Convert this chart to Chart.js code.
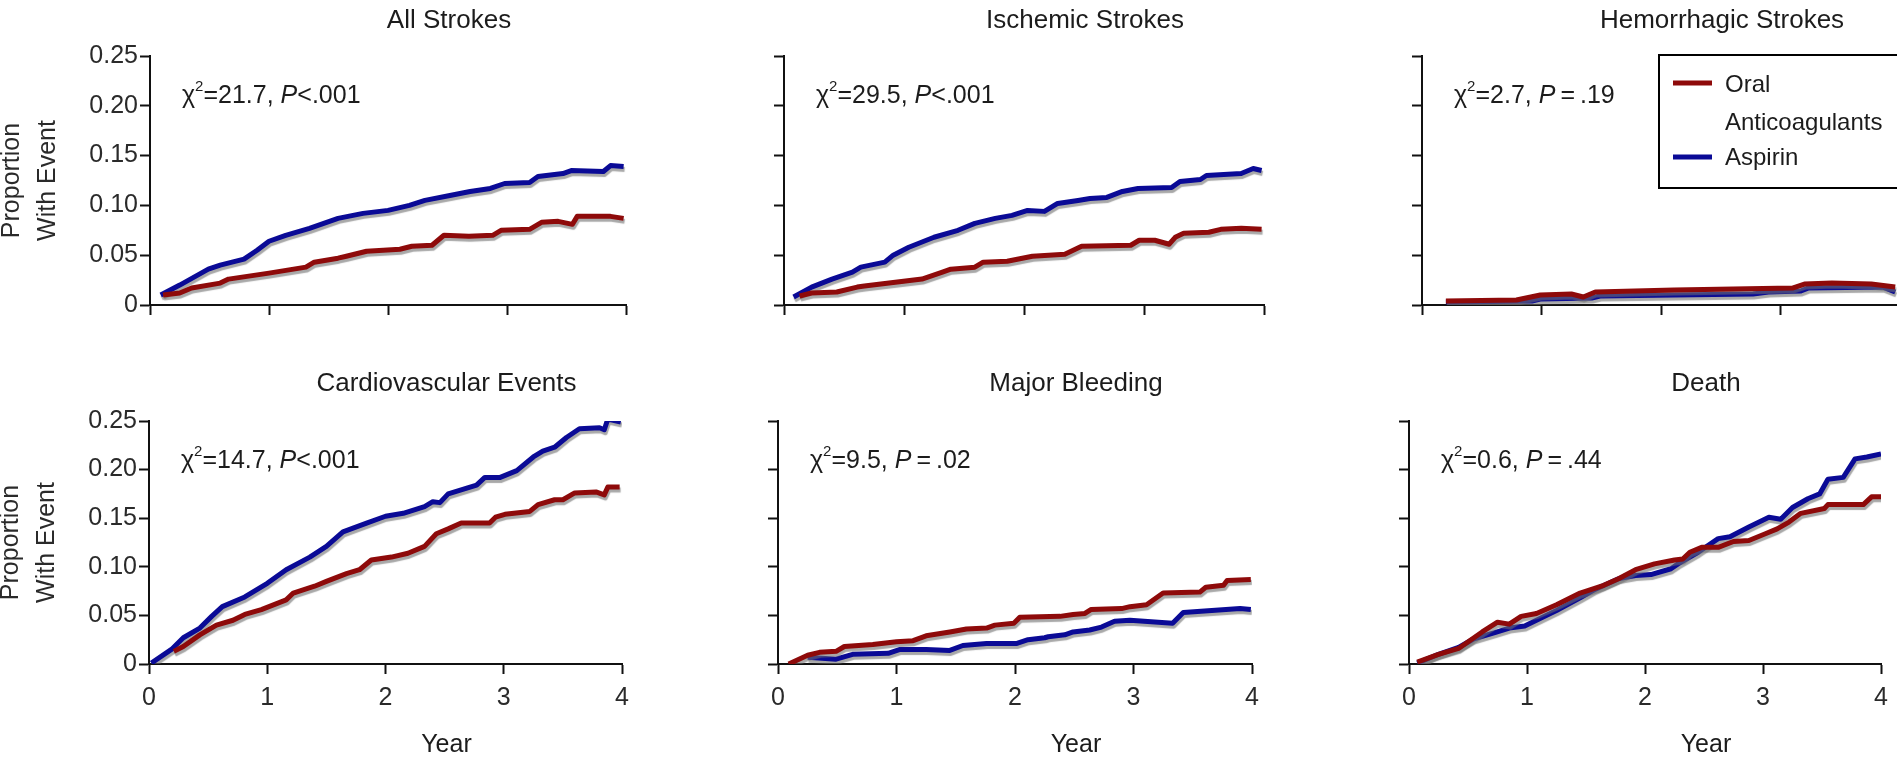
<!DOCTYPE html>
<html>
<head>
<meta charset="utf-8">
<title>Oral anticoagulants vs aspirin: cumulative events</title>
<script src="https://cdn.jsdelivr.net/npm/chart.js@4.4.1/dist/chart.umd.min.js"></script>
<style>
  html, body { margin: 0; padding: 0; background: #fff; overflow: hidden; }
  body { width: 1897px; height: 758px; position: relative; }
  canvas { position: absolute; }
</style>
</head>
<body>
<canvas id="allStrokes"></canvas>
<canvas id="ischemic"></canvas>
<canvas id="hemorrhagic"></canvas>
<canvas id="cardio"></canvas>
<canvas id="bleeding"></canvas>
<canvas id="death"></canvas>
<script>
const FONT = "'Liberation Sans', Arial, Helvetica, sans-serif";
const RED = "#8e0a0a";
const BLUE = "#0a0a96";
const INK = "#1c1c1c";

const seriesNames = ["Oral Anticoagulants", "Aspirin"];
const yTicks = [0, 0.05, 0.10, 0.15, 0.20, 0.25];
const xTicks = [0, 1, 2, 3, 4];

// All strokes
const allOacYears = [0.11,0.25,0.35,0.59,0.66,1.0,1.31,1.38,1.58,1.65,1.82,2.10,2.20,2.37,2.47,2.68,2.88,2.95,3.19,3.29,3.43,3.55,3.59,3.87,3.98];
const allOac      = [0.010,0.012,0.017,0.022,0.026,0.032,0.038,0.043,0.047,0.049,0.054,0.056,0.059,0.060,0.070,0.069,0.070,0.075,0.076,0.083,0.084,0.081,0.089,0.089,0.087];
const allAspYears = [0.09,0.25,0.49,0.59,0.79,0.90,1.0,1.14,1.34,1.58,1.79,2.0,2.18,2.31,2.52,2.69,2.86,2.98,3.19,3.26,3.47,3.54,3.81,3.87,3.98];
const allAsp      = [0.010,0.020,0.036,0.040,0.046,0.055,0.064,0.070,0.077,0.087,0.092,0.095,0.100,0.105,0.110,0.114,0.117,0.122,0.123,0.129,0.132,0.135,0.134,0.140,0.139];

// Ischemic strokes
const ischOacYears = [0.13,0.23,0.44,0.61,0.67,1.15,1.32,1.39,1.59,1.66,1.86,2.07,2.34,2.48,2.89,2.96,3.09,3.21,3.26,3.33,3.54,3.64,3.81,3.98];
const ischOac      = [0.009,0.012,0.013,0.018,0.019,0.026,0.033,0.036,0.038,0.043,0.044,0.049,0.051,0.059,0.060,0.065,0.065,0.061,0.068,0.072,0.073,0.076,0.077,0.076];
const ischAspYears = [0.08,0.23,0.40,0.57,0.64,0.84,0.91,1.04,1.25,1.45,1.59,1.76,1.90,2.03,2.17,2.28,2.45,2.55,2.69,2.82,2.95,3.23,3.30,3.47,3.52,3.81,3.91,3.98];
const ischAsp      = [0.008,0.018,0.026,0.033,0.038,0.043,0.050,0.058,0.068,0.075,0.082,0.087,0.090,0.095,0.094,0.102,0.105,0.107,0.108,0.114,0.117,0.118,0.124,0.126,0.130,0.132,0.137,0.135];

// Hemorrhagic strokes
const hemOacYears = [0.20,0.79,0.99,1.25,1.35,1.45,2.11,3.10,3.20,3.43,3.76,3.96];
const hemOac      = [0.004,0.005,0.010,0.011,0.008,0.013,0.015,0.017,0.021,0.022,0.021,0.018];
const hemAspYears = [0.20,0.92,0.99,1.42,1.49,2.11,2.77,2.90,3.17,3.23,3.86,3.96];
const hemAsp      = [0.003,0.004,0.006,0.007,0.009,0.010,0.011,0.013,0.014,0.017,0.018,0.013];

// Cardiovascular events
const cvOacYears = [0.21,0.29,0.43,0.57,0.71,0.81,0.95,1.16,1.22,1.4,1.5,1.67,1.78,1.88,2.05,2.19,2.33,2.43,2.53,2.64,2.88,2.93,3.01,3.22,3.29,3.43,3.5,3.6,3.78,3.85,3.88,3.98];
const cvOac      = [0.013,0.018,0.030,0.040,0.045,0.051,0.056,0.066,0.073,0.080,0.085,0.093,0.097,0.107,0.110,0.114,0.121,0.134,0.139,0.145,0.145,0.151,0.154,0.157,0.164,0.169,0.169,0.176,0.177,0.174,0.182,0.182];
const cvAspYears = [0.02,0.19,0.29,0.43,0.53,0.62,0.81,1.0,1.16,1.36,1.5,1.64,1.84,2.0,2.15,2.33,2.4,2.46,2.53,2.77,2.84,2.97,3.11,3.25,3.33,3.43,3.53,3.64,3.81,3.85,3.88,3.99];
const cvAsp      = [0.001,0.015,0.027,0.037,0.049,0.059,0.069,0.083,0.097,0.110,0.121,0.136,0.145,0.152,0.155,0.162,0.167,0.166,0.175,0.184,0.192,0.192,0.199,0.213,0.219,0.223,0.233,0.242,0.243,0.241,0.252,0.249];

// Major bleeding
const bleedOacYears = [0.09,0.25,0.35,0.49,0.56,0.8,1.0,1.14,1.25,1.45,1.59,1.76,1.83,1.99,2.04,2.38,2.49,2.59,2.64,2.9,2.97,3.11,3.25,3.56,3.61,3.76,3.79,3.99];
const bleedOac      = [0.000,0.009,0.012,0.013,0.018,0.020,0.023,0.024,0.029,0.033,0.036,0.037,0.040,0.042,0.048,0.049,0.051,0.052,0.056,0.057,0.059,0.061,0.073,0.074,0.079,0.081,0.086,0.087];
const bleedAspYears = [0.25,0.49,0.63,0.93,1.03,1.25,1.45,1.56,1.76,2.01,2.11,2.25,2.28,2.42,2.49,2.63,2.73,2.84,2.97,3.33,3.42,3.66,3.9,3.99];
const bleedAsp      = [0.007,0.005,0.010,0.011,0.015,0.015,0.014,0.019,0.021,0.021,0.025,0.027,0.028,0.030,0.033,0.035,0.038,0.044,0.045,0.042,0.053,0.055,0.057,0.056];

// Death
const deathOacYears = [0.07,0.25,0.42,0.62,0.75,0.85,0.95,1.08,1.25,1.45,1.65,1.78,1.92,2.08,2.25,2.32,2.38,2.48,2.62,2.75,2.88,3.02,3.12,3.22,3.32,3.52,3.55,3.85,3.92,4.0];
const deathOac      = [0.002,0.010,0.016,0.033,0.043,0.041,0.049,0.052,0.061,0.073,0.081,0.088,0.097,0.103,0.107,0.108,0.115,0.120,0.120,0.126,0.127,0.134,0.139,0.146,0.155,0.160,0.164,0.164,0.172,0.172];
const deathAspYears = [0.07,0.25,0.42,0.55,0.72,0.85,0.98,1.08,1.25,1.45,1.58,1.78,1.92,2.05,2.22,2.28,2.45,2.62,2.72,2.88,3.05,3.15,3.25,3.38,3.48,3.55,3.68,3.78,3.88,4.0];
const deathAsp      = [0.001,0.010,0.017,0.026,0.032,0.037,0.039,0.045,0.055,0.068,0.077,0.088,0.091,0.092,0.098,0.103,0.115,0.129,0.131,0.141,0.151,0.149,0.161,0.170,0.175,0.190,0.192,0.211,0.213,0.216];

const TS = "\u2009"; // thin space around "=" in the P value
const panels = [
  { id: "allStrokes",  title: "All Strokes",           chi: "21.7", p: "<.001", oac: [allOacYears, allOac],     asp: [allAspYears, allAsp],
    box: { left: 150, right: 626, top: 56, bottom: 305 }, row: 0, first: true },
  { id: "ischemic",    title: "Ischemic Strokes",      chi: "29.5", p: "<.001", oac: [ischOacYears, ischOac],   asp: [ischAspYears, ischAsp],
    box: { left: 784, right: 1264, top: 56, bottom: 305 }, row: 0 },
  { id: "hemorrhagic", title: "Hemorrhagic Strokes",   chi: "2.7",  p: TS + "=" + TS + ".19", oac: [hemOacYears, hemOac], asp: [hemAspYears, hemAsp],
    box: { left: 1422, right: 1900, top: 56, bottom: 305 }, row: 0, legend: true },
  { id: "cardio",      title: "Cardiovascular Events", chi: "14.7", p: "<.001", oac: [cvOacYears, cvOac],       asp: [cvAspYears, cvAsp],
    box: { left: 149, right: 622, top: 421, bottom: 664 }, row: 1, first: true },
  { id: "bleeding",    title: "Major Bleeding",        chi: "9.5",  p: TS + "=" + TS + ".02", oac: [bleedOacYears, bleedOac], asp: [bleedAspYears, bleedAsp],
    box: { left: 778, right: 1252, top: 421, bottom: 664 }, row: 1 },
  { id: "death",       title: "Death",                 chi: "0.6",  p: TS + "=" + TS + ".44", oac: [deathOacYears, deathOac], asp: [deathAspYears, deathAsp],
    box: { left: 1409, right: 1881, top: 421, bottom: 664 }, row: 1 },
];

const Y_AXIS_W = 156;
const PAD_RIGHT = 30;

function points(xs, ys) {
  return xs.map((x, i) => ({ x: x, y: ys[i] }));
}

// grey shadow under each curve
const curveShadow = {
  id: "curveShadow",
  beforeDatasetDraw(chart) {
    const ctx = chart.ctx;
    ctx.save();
    ctx.shadowColor = "rgba(110,110,110,0.6)";
    ctx.shadowOffsetX = 1;
    ctx.shadowOffsetY = 3;
    ctx.shadowBlur = 1;
  },
  afterDatasetDraw(chart) {
    chart.ctx.restore();
  }
};

// panel title, test statistic, "Year" and the legend box
const panelText = {
  id: "panelText",
  afterDraw(chart, args, opts) {
    const ctx = chart.ctx;
    const a = chart.chartArea;
    const cx = (a.left + a.right) / 2 + 61;
    ctx.save();
    ctx.fillStyle = INK;
    ctx.textBaseline = "middle";
    ctx.textAlign = "center";
    ctx.font = "26px " + FONT;
    ctx.fillText(opts.title, cx, a.top - (opts.row === 0 ? 35 : 37));
    if (opts.row === 1) {
      ctx.font = "25px " + FONT;
      ctx.fillText("Year", cx, a.bottom + 81);
    }

    // chi-square line
    ctx.textAlign = "left";
    let x = a.left + 32;
    const y = a.top + 40;
    const parts = [
      { t: "\u03c7", f: "25px " + FONT, dy: 0 },
      { t: "2", f: "15px " + FONT, dy: -9 },
      { t: "=" + opts.chi + ", ", f: "25px " + FONT, dy: 0 },
      { t: "P", f: "italic 25px " + FONT, dy: 0 },
      { t: opts.p, f: "25px " + FONT, dy: 0 },
    ];
    parts.forEach(pt => {
      ctx.font = pt.f;
      ctx.fillText(pt.t, x, y + pt.dy);
      x += ctx.measureText(pt.t).width;
    });

    if (opts.legend) {
      const lx = a.left + 237, ly = a.top - 1;
      ctx.strokeStyle = "#000";
      ctx.lineWidth = 2;
      ctx.strokeRect(lx, ly, 400, 133);
      ctx.font = "24px " + FONT;
      const rows = [
        { ds: chart.data.datasets[0], lineY: ly + 28, text: ["Oral", "Anticoagulants"], textY: ly + 30 },
        { ds: chart.data.datasets[1], lineY: ly + 102, text: ["Aspirin"], textY: ly + 103 },
      ];
      rows.forEach(r => {
        ctx.strokeStyle = r.ds.borderColor;
        ctx.lineWidth = 5;
        ctx.beginPath();
        ctx.moveTo(lx + 14, r.lineY);
        ctx.lineTo(lx + 53, r.lineY);
        ctx.stroke();
        ctx.fillStyle = INK;
        r.text.forEach((s, k) => ctx.fillText(s, lx + 66, r.textY + k * 38));
      });
    }
    ctx.restore();
  }
};

panels.forEach(p => {
  const b = p.box;
  const canvasTop = p.row === 0 ? 0 : 340;
  const xAxisH = p.row === 0 ? 20 : 94;
  const canvasH = p.row === 0 ? b.bottom + xAxisH : 758 - canvasTop;
  const canvasW = (b.right - b.left) + Y_AXIS_W + PAD_RIGHT;

  const el = document.getElementById(p.id);
  el.width = canvasW;
  el.height = canvasH;
  el.style.left = (b.left - Y_AXIS_W) + "px";
  el.style.top = canvasTop + "px";
  el.style.width = canvasW + "px";
  el.style.height = canvasH + "px";

  new Chart(el, {
    type: "line",
    data: {
      datasets: [
        { label: seriesNames[0], data: points(p.oac[0], p.oac[1]), borderColor: RED },
        { label: seriesNames[1], data: points(p.asp[0], p.asp[1]), borderColor: BLUE },
      ]
    },
    options: {
      responsive: false,
      animation: false,
      devicePixelRatio: 1,
      events: [],
      parsing: false,
      elements: {
        line: { borderWidth: 5, tension: 0, borderJoinStyle: "round", fill: false },
        point: { radius: 0 }
      },
      layout: { padding: { top: b.top - canvasTop, right: PAD_RIGHT, left: 0, bottom: 0 } },
      plugins: {
        legend: { display: false },
        tooltip: { enabled: false },
        panelText: { title: p.title, chi: p.chi, p: p.p, row: p.row, legend: !!p.legend }
      },
      scales: {
        x: {
          type: "linear",
          min: xTicks[0],
          max: xTicks[xTicks.length - 1],
          afterBuildTicks: s => { s.ticks = xTicks.map(v => ({ value: v })); },
          afterFit: s => { s.height = xAxisH; },
          grid: { drawOnChartArea: false, drawTicks: true, tickLength: 10, tickWidth: 2, tickColor: "#111" },
          border: { display: true, color: "#111", width: 2 },
          ticks: { display: p.row === 1, padding: 9, color: "#2a2a2a", font: { size: 25, family: FONT } }
        },
        y: {
          type: "linear",
          min: yTicks[0],
          max: yTicks[yTicks.length - 1],
          afterBuildTicks: s => { s.ticks = yTicks.map(v => ({ value: v })); },
          afterFit: s => { s.width = Y_AXIS_W; },
          grid: { drawOnChartArea: false, drawTicks: true, tickLength: 10, tickWidth: 2, tickColor: "#111" },
          border: { display: true, color: "#111", width: 2 },
          ticks: {
            display: !!p.first,
            padding: 2,
            color: "#2a2a2a",
            font: { size: 25, family: FONT },
            callback: v => v === 0 ? "0" : v.toFixed(2)
          },
          title: {
            display: !!p.first,
            text: ["Proportion", "With Event"],
            color: "#2a2a2a",
            padding: 0,
            font: { size: 25, family: FONT, lineHeight: "36px" }
          }
        }
      }
    },
    plugins: [curveShadow, panelText]
  });
});
</script>
</body>
</html>
